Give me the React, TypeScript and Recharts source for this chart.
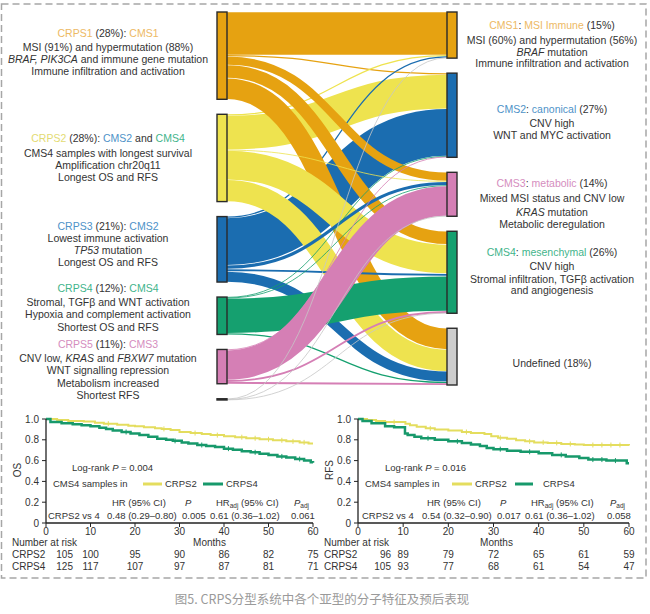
import React from "react";
import { Sankey, LineChart, Line, XAxis, YAxis } from "recharts";

const FONT = '"Liberation Sans", Arial, Helvetica, sans-serif';
const INK = "#333";

const ORANGE = "#E6A211";
const YELLOW = "#EEE34F";
const BLUE = "#1B6DB0";
const GREEN = "#15A06F";
const PINK = "#D57FB5";
const GREY = "#CDCDCD";

const T_ORANGE = "#EDB964";
const T_YELLOW = "#E3DB72";
const T_BLUE = "#4E92C8";
const T_GREEN = "#3FB48B";
const T_PINK = "#D58DBE";

const KM_YELLOW = "#E4DD5E";
const KM_GREEN = "#17996B";

// ---- Sankey: CRPS subtypes (left) -> CMS subtypes (right), values in % of samples
const crpsGroups = ["CRPS1", "CRPS2", "CRPS3", "CRPS4", "CRPS5", "Unclassified"];
const cmsGroups = ["CMS1", "CMS2", "CMS3", "CMS4", "Undefined"];
const crpsColors = [ORANGE, YELLOW, BLUE, GREEN, PINK, "#1a1a1a"];
const cmsColors = [ORANGE, BLUE, PINK, GREEN, GREY];
const linkColors = [ORANGE, YELLOW, BLUE, GREEN, PINK, "#c6c6c6"];

// columns: CMS1, CMS2, CMS3, CMS4, Undefined
const fromCRPS1 = [13.8, 0.4, 2.8, 4.2, 6.8];
const fromCRPS2 = [0.4, 11.0, 0.2, 9.4, 7.0];
const fromCRPS3 = [0.4, 15.2, 1.2, 0.8, 3.4];
const fromCRPS4 = [0, 0.2, 0.2, 11.2, 0.4];
const fromCRPS5 = [0, 0.2, 9.6, 0.6, 0.6];
const fromUnclassified = [0.2, 0, 0.1, 0.1, 0];
const flows = [fromCRPS1, fromCRPS2, fromCRPS3, fromCRPS4, fromCRPS5, fromUnclassified];

const allLinks = flows
  .flatMap((row, s) =>
    row.map((value, t) => ({
      source: s,
      target: crpsGroups.length + t,
      value,
      color: linkColors[s],
      early: s <= 2 && t <= 1,
    }))
  )
  .filter((l) => l.value > 0);

const sankeyData = {
  nodes: [
    ...crpsGroups.map((name, i) => ({ name, color: crpsColors[i] })),
    ...cmsGroups.map((name, i) => ({ name, color: cmsColors[i] })),
  ],
  // draw the big CMS1/CMS2 bands first so the smaller crossing bands sit on top
  links: [...allLinks.filter((l) => l.early), ...allLinks.filter((l) => !l.early)],
};

type Part = [string, string?, boolean?];

const crps1Text: Part[][] = [
  [["CRPS1", T_ORANGE], [" (28%): "], ["CMS1", T_ORANGE]],
  [["MSI (91%) and hypermutation (88%)"]],
  [["BRAF, PIK3CA", undefined, true], [" and immune gene mutation"]],
  [["Immune infiltration and activation"]],
];
const crps2Text: Part[][] = [
  [["CRPS2", T_YELLOW], [" (28%): "], ["CMS2", T_BLUE], [" and "], ["CMS4", T_GREEN]],
  [["CMS4 samples with longest survival"]],
  [["Amplification chr20q11"]],
  [["Longest OS and RFS"]],
];
const crps3Text: Part[][] = [
  [["CRPS3", T_BLUE], [" (21%): "], ["CMS2", T_BLUE]],
  [["Lowest immune activation"]],
  [["TP53", undefined, true], [" mutation"]],
  [["Longest OS and RFS"]],
];
const crps4Text: Part[][] = [
  [["CRPS4", T_GREEN], [" (12%): "], ["CMS4", T_GREEN]],
  [["Stromal, TGFβ and WNT activation"]],
  [["Hypoxia and complement activation"]],
  [["Shortest OS and RFS"]],
];
const crps5Text: Part[][] = [
  [["CRPS5", T_PINK], [" (11%): "], ["CMS3", T_PINK]],
  [["CNV low, "], ["KRAS", undefined, true], [" and "], ["FBXW7", undefined, true], [" mutation"]],
  [["WNT signalling repression"]],
  [["Metabolism increased"]],
  [["Shortest RFS"]],
];
const cms1Text: Part[][] = [
  [["CMS1", T_ORANGE], [": "], ["MSI Immune", T_ORANGE], [" (15%)"]],
  [["MSI (60%) and hypermutation (56%)"]],
  [["BRAF", undefined, true], [" mutation"]],
  [["Immune infiltration and activation"]],
];
const cms2Text: Part[][] = [
  [["CMS2", T_BLUE], [": "], ["canonical", T_BLUE], [" (27%)"]],
  [["CNV high"]],
  [["WNT and MYC activation"]],
];
const cms3Text: Part[][] = [
  [["CMS3", T_PINK], [": "], ["metabolic", T_PINK], [" (14%)"]],
  [["Mixed MSI status and CNV low"]],
  [["KRAS", undefined, true], [" mutation"]],
  [["Metabolic deregulation"]],
];
const cms4Text: Part[][] = [
  [["CMS4", T_GREEN], [": "], ["mesenchymal", T_GREEN], [" (26%)"]],
  [["CNV high"]],
  [["Stromal infiltration, TGFβ activation"]],
  [["and angiogenesis"]],
];
const undefinedText: Part[][] = [[["Undefined (18%)"]]];

// ---- Kaplan-Meier curves (months, survival)
const monthTicks = [0, 10, 20, 30, 40, 50, 60];
const survTicks = [0, 0.2, 0.4, 0.6, 0.8, 1];

const osCRPS2Months = [0, 2.5, 5, 8.5, 11, 13, 16, 18.5, 20, 22, 24.5, 26, 28, 30, 32.5, 35, 37, 40, 42.5, 45, 48, 51, 54, 57, 59, 60];
const osCRPS2Surv = [1, 0.99, 0.98, 0.975, 0.965, 0.955, 0.945, 0.935, 0.93, 0.92, 0.91, 0.905, 0.895, 0.875, 0.865, 0.855, 0.845, 0.835, 0.825, 0.815, 0.805, 0.795, 0.785, 0.775, 0.765, 0.765];
const osCRPS2Censor = [14, 26.5, 33.5, 38.5, 44, 47, 50, 53, 55.5, 58];

const osCRPS4Months = [0, 1, 3.5, 6, 8, 10, 12, 13.5, 15, 17, 19, 21, 23, 25, 27, 28.5, 30.5, 32, 34, 36, 38, 40, 42, 44, 46, 48, 50, 52, 54, 56, 58, 59.5, 60];
const osCRPS4Surv = [1, 0.97, 0.96, 0.95, 0.94, 0.93, 0.915, 0.905, 0.89, 0.875, 0.86, 0.845, 0.83, 0.81, 0.8, 0.79, 0.775, 0.765, 0.75, 0.74, 0.73, 0.715, 0.705, 0.69, 0.68, 0.665, 0.655, 0.64, 0.63, 0.615, 0.6, 0.585, 0.58];
const osCRPS4Censor = [18, 29, 35, 41, 47, 53, 57];

const rfsCRPS2Months = [0, 2, 4, 6, 10.5, 11.5, 13, 15, 17, 20, 23, 25, 28, 29.5, 31, 33, 35, 37, 39, 42, 45, 48, 50, 60];
const rfsCRPS2Surv = [1, 0.99, 0.98, 0.97, 0.955, 0.94, 0.925, 0.91, 0.9, 0.89, 0.875, 0.865, 0.855, 0.835, 0.82, 0.81, 0.795, 0.785, 0.775, 0.77, 0.76, 0.755, 0.75, 0.745];
const rfsCRPS2Censor = [8, 16, 24, 31.5, 38, 41, 44, 47, 52, 54, 56, 58];

const rfsCRPS4Months = [0, 1, 3, 6, 8, 10.4, 11, 12.5, 14, 17, 20, 23, 25, 27, 28.5, 30, 33, 36, 40, 43, 46, 49, 51, 55, 59.5, 60];
const rfsCRPS4Surv = [1, 0.98, 0.96, 0.93, 0.92, 0.86, 0.845, 0.83, 0.815, 0.8, 0.785, 0.77, 0.755, 0.74, 0.72, 0.71, 0.695, 0.685, 0.67, 0.655, 0.64, 0.625, 0.61, 0.6, 0.575, 0.575];
const rfsCRPS4Censor = [15.5, 22, 31.5, 38, 45, 52, 54, 57];

// numbers at risk at 0,10,...,60 months
const riskOS2 = [105, 100, 95, 90, 86, 82, 75];
const riskOS4 = [125, 117, 107, 97, 87, 81, 71];
const riskRFS2 = [96, 89, 79, 72, 65, 61, 59];
const riskRFS4 = [105, 93, 77, 68, 61, 54, 47];

const hrHeader = ["HR (95% CI)", "P", "HR", "P"];
const hrRowOS = ["CRPS2 vs 4", "0.48 (0.29–0.80)", "0.005", "0.61 (0.36–1.02)", "0.061"];
const hrRowRFS = ["CRPS2 vs 4", "0.54 (0.32–0.90)", "0.017", "0.61 (0.36–1.02)", "0.058"];

function stepAt(months: number[], surv: number[], t: number) {
  let v = surv[0];
  for (let i = 0; i < months.length; i++) if (months[i] <= t) v = surv[i];
  return v;
}

function kmSeries(months: number[], surv: number[], censor: number[]) {
  const pts = months.map((t, i) => ({ t, s: surv[i], c: false }));
  censor.forEach((t) => pts.push({ t, s: stepAt(months, surv, t), c: true }));
  return pts.sort((a, b) => a.t - b.t || (a.c ? 1 : 0) - (b.c ? 1 : 0));
}

function FlowLink(props: any) {
  const { sourceX, targetX, sourceY, targetY, sourceControlX, targetControlX, linkWidth, payload } = props;
  const w = linkWidth > 2 ? linkWidth - 0.6 : Math.max(linkWidth, 0.8);
  return (
    <path
      d={`M${sourceX},${sourceY}C${sourceControlX},${sourceY} ${targetControlX},${targetY} ${targetX},${targetY}`}
      fill="none"
      stroke={payload.color}
      strokeWidth={w}
    />
  );
}

function FlowNode(props: any) {
  const { x, y, width, height, payload } = props;
  return (
    <rect
      x={x}
      y={y}
      width={width}
      height={Math.max(height, 1)}
      fill={payload.color}
      stroke="#2a2a2a"
      strokeWidth={1.4}
    />
  );
}

function TextBlock({ lines, ys, cx }: { lines: Part[][]; ys: number[]; cx: number }) {
  return (
    <>
      {lines.map((ln, i) => (
        <div
          key={i}
          style={{
            position: "absolute",
            left: cx - 120,
            width: 240,
            top: ys[i] - 7,
            lineHeight: "14px",
            textAlign: "center",
            fontSize: 10.5,
            color: INK,
            whiteSpace: "nowrap",
          }}
        >
          {ln.map((p, j) => (
            <span key={j} style={{ color: p[1] || INK, fontStyle: p[2] ? "italic" : "normal" }}>
              {p[0]}
            </span>
          ))}
        </div>
      ))}
    </>
  );
}

function RiskTick(props: any) {
  const { x, y, payload, risk2, risk4, monthsDx, firstDx } = props;
  const i = monthTicks.indexOf(payload.value);
  const axisY = y - 6;
  const st = { fontFamily: FONT, fontSize: 10, fill: INK };
  return (
    <g>
      <text x={x} y={axisY + 12} textAnchor="middle" {...st}>
        {payload.value}
      </text>
      {i === 0 ? (
        <>
          <text x={x - 34} y={axisY + 23} {...st}>Number at risk</text>
          <text x={x - 34} y={axisY + 35} {...st}>CRPS2</text>
          <text x={x - 34} y={axisY + 47} {...st}>CRPS4</text>
          <text x={x + firstDx} y={axisY + 35} textAnchor="end" {...st}>{risk2[0]}</text>
          <text x={x + firstDx} y={axisY + 47} textAnchor="end" {...st}>{risk4[0]}</text>
        </>
      ) : (
        <>
          <text x={x} y={axisY + 35} textAnchor="middle" {...st}>{risk2[i]}</text>
          <text x={x} y={axisY + 47} textAnchor="middle" {...st}>{risk4[i]}</text>
        </>
      )}
      {i === 3 && (
        <text x={x + monthsDx} y={axisY + 23} textAnchor="middle" {...st}>
          Months
        </text>
      )}
    </g>
  );
}

const censorDot = (color: string) => (p: any) =>
  p.payload && p.payload.c ? (
    <line key={`c-${p.index}`} x1={p.cx} x2={p.cx} y1={p.cy - 2.5} y2={p.cy + 2.5} stroke={color} strokeWidth={1} />
  ) : (
    <g key={`c-${p.index}`} />
  );

function KMPanel(props: any) {
  const { left, yAxisWidth, rightMargin, yellow, green, risk2, risk4, monthsDx, firstDx } = props;
  return (
    <div style={{ position: "absolute", left, top: 410 }}>
      <LineChart width={325} height={169} margin={{ top: 9, right: rightMargin, bottom: 0, left: 0 }}>
        <XAxis
          type="number"
          dataKey="t"
          domain={[0, 60]}
          ticks={monthTicks}
          interval={0}
          height={56}
          tickSize={4}
          tickMargin={2}
          stroke="#222"
          axisLine={{ stroke: "#222", strokeWidth: 1.3 }}
          tick={(p: any) => (
            <RiskTick {...p} risk2={risk2} risk4={risk4} monthsDx={monthsDx} firstDx={firstDx} />
          )}
        />
        <YAxis
          type="number"
          domain={[0, 1]}
          ticks={survTicks}
          interval={0}
          width={yAxisWidth}
          tickSize={4}
          tickMargin={3}
          stroke="#222"
          axisLine={{ stroke: "#222", strokeWidth: 1.3 }}
          tick={{ fill: INK, fontSize: 10, fontFamily: FONT }}
          tickFormatter={(v: number) => (v === 0 ? "0" : v.toFixed(1))}
        />
        <Line
          data={yellow}
          dataKey="s"
          type="stepAfter"
          stroke={KM_YELLOW}
          strokeWidth={2}
          dot={censorDot(KM_YELLOW)}
          activeDot={false}
          isAnimationActive={false}
        />
        <Line
          data={green}
          dataKey="s"
          type="stepAfter"
          stroke={KM_GREEN}
          strokeWidth={2.5}
          dot={censorDot(KM_GREEN)}
          activeDot={false}
          isAnimationActive={false}
        />
      </LineChart>
    </div>
  );
}

function KMNotes(props: any) {
  const { x, pval, row, yLabel, yLabelX } = props;
  const st = { fontFamily: FONT, fontSize: 9.5, fill: INK };
  const b = 3.4;
  return (
    <g>
      <text transform={`translate(${yLabelX},470) rotate(-90)`} textAnchor="middle" dy={3.5} {...st} fontSize={10}>
        {yLabel}
      </text>
      <text x={x.logrank} y={468 + b} {...st}>
        Log-rank <tspan fontStyle="italic">P</tspan> = {pval}
      </text>
      <text x={x.samples} y={484 + b} {...st}>CMS4 samples in</text>
      <line x1={x.seg2[0]} x2={x.seg2[1]} y1={484} y2={484} stroke={KM_YELLOW} strokeWidth={3} />
      <text x={x.lab2} y={484 + b} {...st}>CRPS2</text>
      <line x1={x.seg4[0]} x2={x.seg4[1]} y1={484} y2={484} stroke={KM_GREEN} strokeWidth={3} />
      <text x={x.lab4} y={484 + b} {...st}>CRPS4</text>

      <text x={x.cols[1] + 5} y={503 + b} {...st}>{hrHeader[0]}</text>
      <text x={x.cols[2] + 3} y={503 + b} fontStyle="italic" {...st}>{hrHeader[1]}</text>
      <text x={x.cols[3] + 6} y={503 + b} {...st}>
        {hrHeader[2]}
        <tspan fontSize={6.5} dy={2}>adj</tspan>
        <tspan dy={-2}> (95% CI)</tspan>
      </text>
      <text x={x.cols[4] + 3} y={503 + b} {...st}>
        <tspan fontStyle="italic">{hrHeader[3]}</tspan>
        <tspan fontSize={6.5} dy={2}>adj</tspan>
      </text>

      {row.map((s: string, i: number) => (
        <text key={i} x={x.cols[i]} y={516 + b} {...st}>
          {s}
        </text>
      ))}
    </g>
  );
}

export default function App() {
  return (
    <div
      style={{
        position: "absolute",
        left: 0,
        top: 0,
        width: 650,
        height: 614,
        background: "#fff",
        fontFamily: FONT,
        overflow: "hidden",
      }}
    >
      <div style={{ position: "absolute", left: 214, top: 9 }}>
        <Sankey
          width={246}
          height={394}
          data={sankeyData}
          nodeWidth={10}
          nodePadding={15}
          iterations={0}
          sort={false}
          margin={{ top: 3, right: 3, bottom: 3, left: 3 }}
          node={FlowNode}
          link={FlowLink}
        />
      </div>

      <TextBlock lines={crps1Text} ys={[33, 47, 59, 71]} cx={108} />
      <TextBlock lines={crps2Text} ys={[138, 153, 165, 177]} cx={108} />
      <TextBlock lines={crps3Text} ys={[226, 238, 250, 262]} cx={108} />
      <TextBlock lines={crps4Text} ys={[288, 302, 314, 327]} cx={108} />
      <TextBlock lines={crps5Text} ys={[344, 358, 370, 383, 395]} cx={108} />

      <TextBlock lines={cms1Text} ys={[25, 40, 52, 63]} cx={552} />
      <TextBlock lines={cms2Text} ys={[109, 123, 135]} cx={552} />
      <TextBlock lines={cms3Text} ys={[183, 198, 212, 224]} cx={552} />
      <TextBlock lines={cms4Text} ys={[252, 266, 279, 290]} cx={552} />
      <TextBlock lines={undefinedText} ys={[363]} cx={552} />

      <KMPanel
        left={0}
        yAxisWidth={46}
        rightMargin={12}
        yellow={kmSeries(osCRPS2Months, osCRPS2Surv, osCRPS2Censor)}
        green={kmSeries(osCRPS4Months, osCRPS4Surv, osCRPS4Censor)}
        risk2={riskOS2}
        risk4={riskOS4}
        monthsDx={30}
        firstDx={27}
      />
      <KMPanel
        left={320}
        yAxisWidth={38}
        rightMargin={16}
        yellow={kmSeries(rfsCRPS2Months, rfsCRPS2Surv, rfsCRPS2Censor)}
        green={kmSeries(rfsCRPS4Months, rfsCRPS4Surv, rfsCRPS4Censor)}
        risk2={riskRFS2}
        risk4={riskRFS4}
        monthsDx={3}
        firstDx={33}
      />

      <svg
        width={650}
        height={614}
        style={{ position: "absolute", left: 0, top: 0, pointerEvents: "none" }}
      >
        <rect x={1.5} y={4} width={644.5} height={574} fill="none" stroke="#a6a6a6" strokeWidth={1.5} strokeDasharray="7 4" />
        <KMNotes
          yLabel="OS"
          yLabelX={17}
          pval="0.004"
          row={hrRowOS}
          x={{
            logrank: 72,
            samples: 53,
            seg2: [143, 162],
            lab2: 165,
            seg4: [203, 223],
            lab4: 226,
            cols: [48, 107, 182, 210, 291],
          }}
        />
        <KMNotes
          yLabel="RFS"
          yLabelX={329}
          pval="0.016"
          row={hrRowRFS}
          x={{
            logrank: 385,
            samples: 365,
            seg2: [452, 472],
            lab2: 475,
            seg4: [515, 533],
            lab4: 543,
            cols: [362, 422, 497, 525, 607],
          }}
        />
        <text
          x={322}
          y={604}
          textAnchor="middle"
          fontSize={12.5}
          fill="#9a9a9a"
          fontFamily='"Noto Sans CJK SC", sans-serif'
        >
          图5. CRPS分型系统中各个亚型的分子特征及预后表现
        </text>
      </svg>
    </div>
  );
}
